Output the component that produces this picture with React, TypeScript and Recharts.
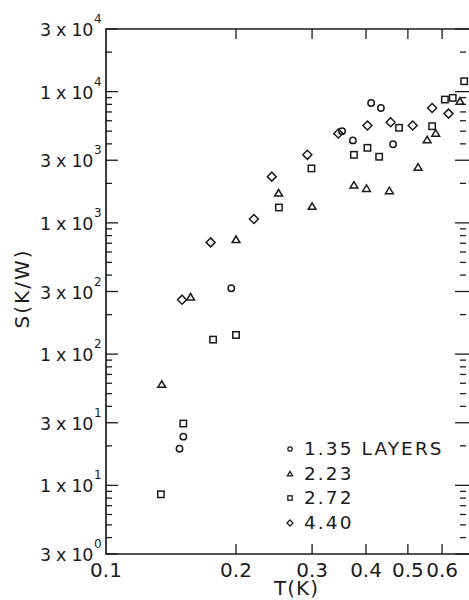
import React from 'react';
import { ScatterChart, Scatter, XAxis, YAxis, ReferenceArea, Legend } from 'recharts';

// ---- data (T in K, S in K/W) ----
const t135 = [0.148, 0.151, 0.195, 0.352, 0.373, 0.411, 0.433, 0.462];
const s135 = [19, 23.5, 318, 5000, 4250, 8200, 7500, 3970];

const t223 = [0.1346, 0.157, 0.2, 0.251, 0.3, 0.375, 0.401, 0.453, 0.528, 0.554, 0.58, 0.66];
const s223 = [58.6, 271, 743, 1680, 1330, 1930, 1820, 1750, 2640, 4270, 4800, 8400];

const t272 = [0.134, 0.151, 0.177, 0.2, 0.2514, 0.299, 0.375, 0.403, 0.429, 0.477, 0.569, 0.609, 0.635, 0.675];
const s272 = [8.55, 29.6, 129, 140, 1310, 2600, 3300, 3730, 3190, 5300, 5450, 8700, 8960, 12000];

const t440 = [0.15, 0.1747, 0.22, 0.242, 0.2925, 0.345, 0.403, 0.456, 0.513, 0.569, 0.621];
const s440 = [260, 710, 1070, 2250, 3300, 4800, 5520, 5850, 5520, 7500, 6800];

const seriesNames = ['1.35 LAYERS', '2.23', '2.72', '4.40'];
const seriesKinds = ['circle', 'triangle', 'square', 'diamond'];

// ---- axes ----
const xTitle = 'T(K)';
const yTitle = 'S(K/W)';
const xDomain = [0.1, 0.7];
const xTicks = [0.1, 0.2, 0.3, 0.4, 0.5, 0.6];
const xTickLabels = ['0.1', '0.2', '0.3', '0.4', '0.5', '0.6'];

const yDomain = [3, 30000];
const yMajor = [3, 10, 30, 100, 300, 1000, 3000, 10000, 30000];
const yMant = ['3', '1', '3', '1', '3', '1', '3', '1', '3'];
const yExp = ['0', '1', '1', '2', '2', '3', '3', '4', '4'];
const yMinor = [
  4, 5, 6, 7, 8, 9,
  20, 40, 50, 60, 70, 80, 90,
  200, 400, 500, 600, 700, 800, 900,
  2000, 4000, 5000, 6000, 7000, 8000, 9000,
  20000,
];

// ---- layout ----
const CHART_W = 469;
const CHART_H = 600;
const MARGIN = { top: 29, right: -2, bottom: 0, left: 0 };
const Y_W = 106;
const X_H = 46;
const PLOT_L = MARGIN.left + Y_W;
const PLOT_R = CHART_W - MARGIN.right;
const PLOT_T = MARGIN.top;
const PLOT_B = CHART_H - MARGIN.bottom - X_H;

const INK = '#1b1b1b';
const FONT = '"DejaVu Sans", "Liberation Sans", sans-serif';

const build = (ts: number[], ss: number[]) => ts.map((t, i) => ({ T: t, S: ss[i] }));
const data135 = build(t135, s135);
const data223 = build(t223, s223);
const data272 = build(t272, s272);
const data440 = build(t440, s440);

function Marker({ kind, cx, cy, s, sw }: { kind: string; cx: number; cy: number; s: number; sw: number }) {
  if (cx == null || cy == null) return null;
  const common = { fill: 'none', stroke: INK, strokeWidth: sw };
  if (kind === 'circle') return <circle cx={cx} cy={cy} r={3.2 * s} {...common} />;
  if (kind === 'triangle') {
    const p = `${cx},${cy - 3.8 * s} ${cx - 3.9 * s},${cy + 2.7 * s} ${cx + 3.9 * s},${cy + 2.7 * s}`;
    return <polygon points={p} {...common} strokeLinejoin="miter" />;
  }
  if (kind === 'square') {
    const h = 3.2 * s;
    return <rect x={cx - h} y={cy - h} width={2 * h} height={2 * h} {...common} />;
  }
  const d = 4.5 * s;
  const p = `${cx},${cy - d} ${cx + d},${cy} ${cx},${cy + d} ${cx - d},${cy}`;
  return <polygon points={p} {...common} />;
}

const makeShape = (kind: string) => (props: any) => (
  <Marker kind={kind} cx={props.cx} cy={props.cy} s={1} sw={1.5} />
);

const YTick = (props: any) => {
  const { y, payload } = props;
  const v = payload.value;
  const idx = yMajor.indexOf(v);
  const major = idx >= 0;
  const len = major ? 12 : 6;
  const isTop = idx === yMajor.length - 1;
  const tcx = 29;
  const tcy = PLOT_T + (PLOT_B - PLOT_T) / 2 - 3;
  return (
    <g>
      <line x1={PLOT_L} x2={PLOT_L + len} y1={y} y2={y} stroke={INK} strokeWidth={1.3} />
      <line
        x1={PLOT_R - (major ? 16 : 11)}
        x2={major ? PLOT_R : PLOT_R - 5}
        y1={y}
        y2={y}
        stroke={INK}
        strokeWidth={1.3}
      />
      {major && (
        <text x={PLOT_L - 66} y={y + 7} fontSize={17.5} fontFamily={FONT} fill={INK} letterSpacing={-0.3}>
          {`${yMant[idx]} x 10`}
          <tspan dx={1} dy={-13} fontSize={12}>
            {yExp[idx]}
          </tspan>
        </text>
      )}
      {isTop && (
        <text
          x={tcx}
          y={tcy}
          transform={`rotate(-90, ${tcx}, ${tcy})`}
          textAnchor="middle"
          fontSize={20}
          fontFamily={FONT}
          fill={INK}
          letterSpacing={2}
        >
          {yTitle}
        </text>
      )}
    </g>
  );
};

const XTick = (props: any) => {
  const { x, payload } = props;
  const v = payload.value;
  const idx = xTicks.indexOf(v);
  const first = idx === 0;
  return (
    <g>
      {!first && <line x1={x} x2={x} y1={PLOT_B} y2={PLOT_B - 10} stroke={INK} strokeWidth={1.3} />}
      {!first && <line x1={x} x2={x} y1={PLOT_T} y2={PLOT_T + 10} stroke={INK} strokeWidth={1.3} />}
      <text x={x} y={PLOT_B + 23} textAnchor="middle" fontSize={20} fontFamily={FONT} fill={INK}>
        {xTickLabels[idx]}
      </text>
      {first && (
        <text
          x={PLOT_L + (PLOT_R - PLOT_L) / 2 + 8}
          y={PLOT_B + 41}
          textAnchor="middle"
          fontSize={20}
          fontFamily={FONT}
          fill={INK}
          letterSpacing={1}
        >
          {xTitle}
        </text>
      )}
    </g>
  );
};

const rowsBase = [20, 45, 69, 94];
const LegendBox = () => (
  <svg width={190} height={100} style={{ display: 'block' }}>
    {seriesNames.map((name, i) => (
      <g key={name}>
        <Marker kind={seriesKinds[i]} cx={22} cy={rowsBase[i] - 6} s={0.68} sw={1.3} />
        <text x={36} y={rowsBase[i]} fontSize={18.5} fontFamily={FONT} fill={INK} letterSpacing={2.1}>
          {name}
        </text>
      </g>
    ))}
  </svg>
);

export default function App() {
  return (
    <div
      style={{
        position: 'fixed',
        left: 0,
        top: 0,
        width: 469,
        height: 600,
        overflow: 'hidden',
        background: '#fff',
      }}
    >
      <style>{'html,body{margin:0;padding:0;overflow:hidden;}'}</style>
      <ScatterChart width={CHART_W} height={CHART_H} margin={MARGIN}>
        <XAxis
          type="number"
          dataKey="T"
          scale="log"
          domain={xDomain}
          ticks={xTicks}
          interval={0}
          allowDataOverflow
          axisLine={false}
          tickLine={false}
          tickSize={0}
          tickMargin={0}
          height={X_H}
          tick={<XTick />}
        />
        <YAxis
          type="number"
          dataKey="S"
          scale="log"
          domain={yDomain}
          ticks={[...yMajor, ...yMinor]}
          interval={0}
          allowDataOverflow
          axisLine={false}
          tickLine={false}
          tickSize={0}
          tickMargin={0}
          width={Y_W}
          tick={<YTick />}
        />
        <ReferenceArea
          x1={xDomain[0]}
          x2={xDomain[1]}
          y1={yDomain[0]}
          y2={yDomain[1]}
          fill="none"
          fillOpacity={0}
          stroke={INK}
          strokeWidth={1.7}
          ifOverflow="visible"
        />
        <Legend
          layout="vertical"
          align="center"
          verticalAlign="middle"
          wrapperStyle={{ left: 268, top: 435, width: 190, height: 100 }}
          content={() => <LegendBox />}
        />
        <Scatter name={seriesNames[0]} data={data135} shape={makeShape('circle')} isAnimationActive={false} />
        <Scatter name={seriesNames[1]} data={data223} shape={makeShape('triangle')} isAnimationActive={false} />
        <Scatter name={seriesNames[2]} data={data272} shape={makeShape('square')} isAnimationActive={false} />
        <Scatter name={seriesNames[3]} data={data440} shape={makeShape('diamond')} isAnimationActive={false} />
      </ScatterChart>
    </div>
  );
}
